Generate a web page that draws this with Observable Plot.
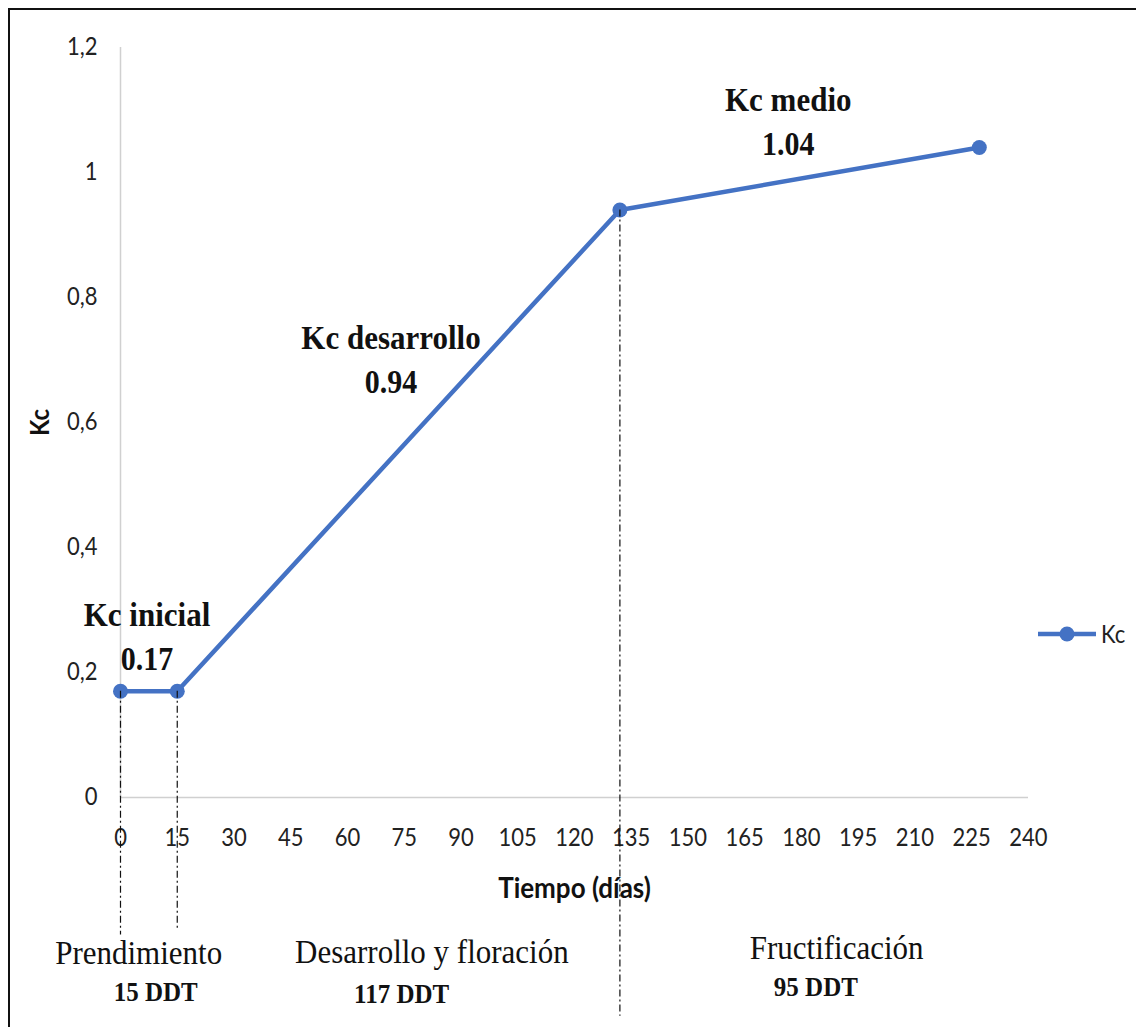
<!DOCTYPE html>
<html>
<head>
<meta charset="utf-8">
<script src="https://cdn.jsdelivr.net/npm/d3@7"></script>
<script src="https://cdn.jsdelivr.net/npm/@observablehq/plot@0.6"></script>
<style>
  html, body { margin: 0; padding: 0; background: #fff; }
  #lienzo { position: relative; width: 1136px; height: 1027px; overflow: hidden; }
  #lienzo > svg { position: absolute; left: 0; top: 0; }
  #marco { position: absolute; left: 8px; top: 8px; width: 1200px; height: 1100px;
           border-top: 2px solid #111; border-left: 2px solid #111; pointer-events: none; }
  #leyenda { position: absolute; left: 1036px; top: 620px; display: flex; align-items: center;
             font-family: Lato, "Open Sans", sans-serif; font-size: 22px; color: #222; }
  #leyenda span { display: inline-block; transform: scaleY(1.15); }
</style>
</head>
<body>
<div id="lienzo"><div id="marco"></div></div>
<script>
// Curva del coeficiente de cultivo (Kc) frente a los días después del trasplante
const dias = [0, 15, 132, 227];
const kc = [0.17, 0.17, 0.94, 1.04];

// Marcas de los ejes
const ticksX = [0, 15, 30, 45, 60, 75, 90, 105, 120, 135, 150, 165, 180, 195, 210, 225, 240];
const ticksY = [0, 0.2, 0.4, 0.6, 0.8, 1, 1.2];

// Rótulos de cada valor de Kc (nombre y valor), centrados en días / Kc
const etapasKc = ["Kc inicial", "Kc desarrollo", "Kc medio"];
const valoresKc = [0.17, 0.94, 1.04];
const etapasDia = [7, 71.5, 176.5];
const etapasNivel = [0.275, 0.718, 1.099];

// Fases fenológicas y su duración en días después del trasplante (DDT)
const fases = ["Prendimiento", "Desarrollo y floración", "Fructificación"];
const duracion = [15, 117, 95];
const fasesDia = [4.8, 82.3, 189.3];
const ddtDia = [9.3, 74.3, 183.8];
const fasesNivel = [-0.266, -0.264, -0.258];
const ddtNivel = [-0.325, -0.328, -0.318];

// Líneas de corte entre fases
const cortes = [0, 15, 132];
const cortesKc = [0.17, 0.17, 0.94];
const cortesFin = [-0.22, -0.21, -0.35];

const azul = "#4472C4";
const gris = "#d0d0d0";
const serif = "'Liberation Serif', 'Times New Roman', serif";
const sans = "Lato, 'Open Sans', sans-serif";
const coma = d => String(d).replace(".", ",");

const serie = dias.map((d, i) => ({dia: d, kc: kc[i]}));
const etiquetas = etapasKc.map((e, i) => ({etapa: e, valor: valoresKc[i], x: etapasDia[i], y: etapasNivel[i]}));
const tablaFases = fases.map((f, i) => ({fase: f, ddt: duracion[i], x: fasesDia[i], xd: ddtDia[i], y: fasesNivel[i], yd: ddtNivel[i]}));
const tablaCortes = cortes.map((c, i) => ({x: c, y1: cortesKc[i], y2: cortesFin[i]}));

const grafico = Plot.plot({
  width: 1136,
  height: 1027,
  marginTop: 47,
  marginBottom: 0,
  marginLeft: 120,
  marginRight: 108,
  x: {domain: [0, 240], axis: null},
  y: {domain: [-0.368, 1.2], axis: null},
  marks: [
    // líneas de los ejes
    Plot.ruleY([0], {x1: 0, x2: 240, stroke: gris, strokeWidth: 1.5}),
    Plot.ruleX([0], {y1: 0, y2: 1.2, stroke: gris, strokeWidth: 1.5}),
    // rótulos de las marcas
    Plot.text(ticksX, {x: d => d, y: 0, dy: 41, text: d => String(d), fontFamily: sans, fontSize: 22, fill: "#222"}),
    Plot.text(ticksY, {x: 0, y: d => d, dx: -23, text: coma, textAnchor: "end", fontFamily: sans, fontSize: 22, fill: "#222"}),
    // títulos de los ejes
    Plot.text(["Tiempo (días)"], {x: 120, y: 0, dy: 100, lineAnchor: "bottom", fontFamily: sans, fontWeight: "bold", fontSize: 26, fill: "#111"}),
    Plot.text(["Kc"], {x: 0, y: 0.6, dx: -80, rotate: -90, fontFamily: sans, fontWeight: "bold", fontSize: 24, fill: "#111"}),
    // serie Kc
    Plot.line(serie, {x: "dia", y: "kc", stroke: azul, strokeWidth: 4.5}),
    Plot.dot(serie, {x: "dia", y: "kc", r: 7.5, fill: azul}),
    // cortes entre fases
    Plot.ruleX(tablaCortes, {x: "x", y1: "y1", y2: "y2", stroke: "#111", strokeWidth: 1.2, strokeDasharray: "7,3,2,3"}),
    // rótulos de Kc
    Plot.text(etiquetas, {x: "x", y: "y", text: "etapa", lineAnchor: "bottom", fontFamily: serif, fontWeight: "bold", fontSize: 31, fill: "#111"}),
    Plot.text(etiquetas, {x: "x", y: "y", dy: 44, text: d => d.valor.toFixed(2), lineAnchor: "bottom", fontFamily: serif, fontWeight: "bold", fontSize: 30, fill: "#111"}),
    // fases
    Plot.text(tablaFases, {x: "x", y: "y", text: "fase", lineAnchor: "bottom", fontFamily: serif, fontSize: 31, fill: "#111"}),
    Plot.text(tablaFases, {x: "xd", y: "yd", text: d => `${d.ddt} DDT`, lineAnchor: "bottom", fontFamily: serif, fontWeight: "bold", fontSize: 25, fill: "#111"})
  ]
});

// Letras algo más altas que anchas, como en la hoja de cálculo original
grafico.querySelectorAll("text").forEach(t => {
  const tr = t.getAttribute("transform");
  if (tr) t.setAttribute("transform", tr + " scale(1,1.12)");
});

const lienzo = document.getElementById("lienzo");
lienzo.insertBefore(grafico, lienzo.firstChild);

// Leyenda
const leyenda = document.createElement("div");
leyenda.id = "leyenda";
leyenda.innerHTML = `<svg width="62" height="24"><line x1="2" x2="60" y1="12" y2="12" stroke="${azul}" stroke-width="4.5"/><circle cx="31" cy="12" r="7.5" fill="${azul}"/></svg><span style="margin-left:3px">Kc</span>`;
lienzo.appendChild(leyenda);
</script>
</body>
</html>
